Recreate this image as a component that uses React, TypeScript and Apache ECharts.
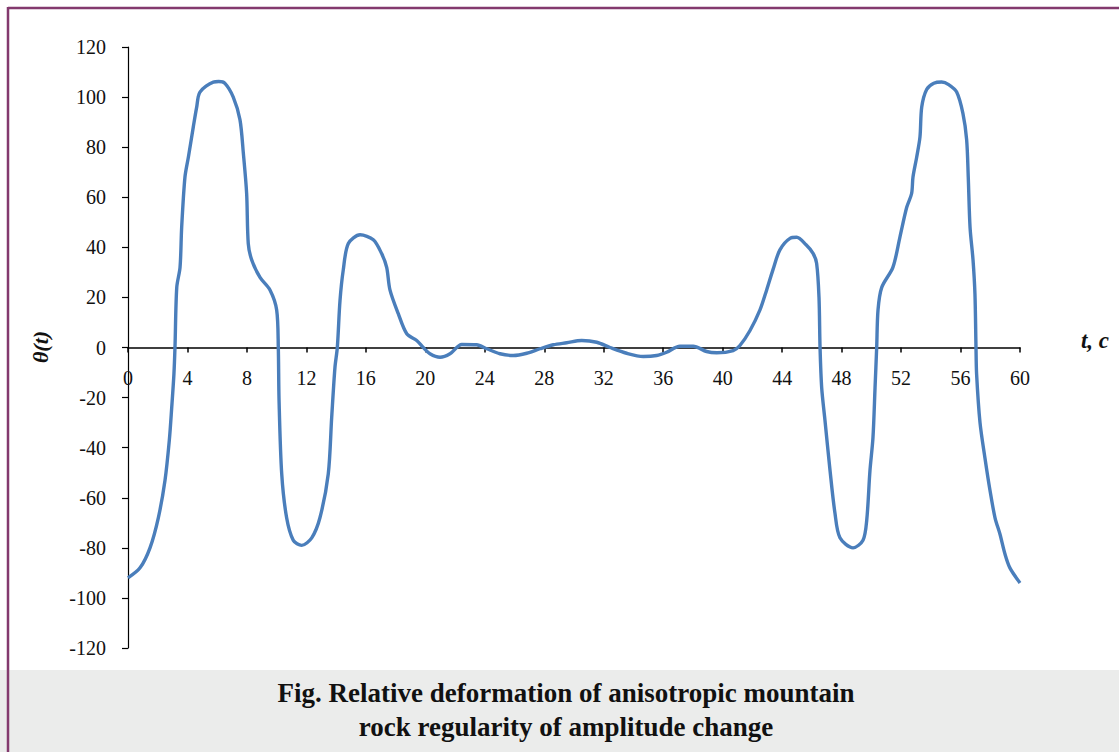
import React, { useEffect, useRef } from "react";
import * as echarts from "echarts";

const tValues = [
  0, 0.81, 1.48, 2.04, 2.49, 2.78, 2.94, 3.09, 3.16, 3.28, 3.5, 3.61, 3.83, 4.06, 4.39, 4.62, 4.84, 5.74, 6.1, 6.52,
  7.08, 7.53, 7.76, 7.98, 8.09, 8.32, 8.88, 9.55, 10.0, 10.11, 10.16, 10.34, 10.67, 11.12, 11.68, 12.36, 12.91, 13.47,
  13.7, 13.92, 14.08, 14.26, 14.48, 14.82, 15.61, 16.5, 17.06, 17.4, 17.62, 18.18, 18.75, 19.42, 19.86, 20.31, 20.99,
  21.66, 22.45, 23.45, 24.13, 25.02, 25.92, 26.82, 27.71, 28.61, 29.51, 30.52, 31.53, 32.42, 33.54, 34.66, 35.56,
  36.23, 37.13, 38.02, 38.92, 39.6, 40.71, 41.16, 41.84, 42.51, 42.96, 43.38, 43.85, 44.53, 44.98, 45.61, 46.08,
  46.32, 46.48, 46.55, 46.66, 46.88, 47.22, 47.55, 47.89, 48.77, 49.44, 49.69, 49.91, 50.11, 50.25, 50.36, 50.45,
  50.7, 51.45, 51.92, 52.38, 52.71, 52.8, 53.05, 53.27, 53.39, 53.72, 54.2, 54.73, 55.2, 55.74, 56.16, 56.41, 56.52,
  56.64, 56.84, 56.97, 57.04, 57.08, 57.31, 57.64, 57.98, 58.32, 58.65, 58.99, 59.32, 60.0,
];

const thetaValues = [
  -92, -88, -80, -68, -53, -37, -24, -10.5, 0, 24, 32, 48, 68, 76, 88, 96, 102, 106, 106.2, 105.5,
  100, 91, 77.5, 61.5, 41.5, 35, 28, 23, 15, 0, -21, -50.5, -68, -77, -79, -76, -68, -50.5,
  -28, -8, 0, 18.7, 31, 41.5, 45, 43, 37.5, 32, 23, 13.5, 5.5, 2.8, 0, -2.5, -3.9,
  -2.5, 1.2, 1.1, -0.5, -2.5, -3.2, -2.3, -0.5, 1.1, 1.9, 2.8, 2.1, 0, -2.3, -3.6, -3.2,
  -1.9, 0.5, 0.5, -1.6, -2.1, -1.2, 0.8, 6.8, 15, 23, 31, 39, 43.6, 44, 41, 37.6,
  33.6, 20, 0, -16, -29, -49, -66, -76, -80, -77, -69, -49, -36, -16, 0, 15,
  24, 32, 44, 56, 61.5, 68, 76, 84, 96, 103, 105.5, 106, 105, 102, 93.5, 83, 68,
  48, 35, 21.3, 0, -10.5, -30, -44, -57, -68, -74.5, -82.5, -88, -94,
];

const yTicks = { min: -120, max: 120, step: 20 };
const xTicks = { min: 0, max: 60, step: 4 };

const yAxisTitle = "θ(t)";
const xAxisTitle = "t, c";
const captionLines = [
  "Fig. Relative deformation of anisotropic mountain",
  "rock regularity of amplitude change",
];

const FONT = "'Liberation Serif', 'Times New Roman', serif";

const GRID_TOP = 47;
const GRID_BOTTOM = 104;
const CHART_H = 752;

export default function App() {
  const ref = useRef<HTMLDivElement>(null);

  useEffect(() => {
    if (!ref.current) return;
    const chart = echarts.init(ref.current, null, { renderer: "svg" });
    const data = tValues.map((t, i) => [t, thetaValues[i]]);
    const plotH = CHART_H - GRID_TOP - GRID_BOTTOM;
    const zeroOffset = -plotH * ((0 - yTicks.min) / (yTicks.max - yTicks.min));
    chart.setOption({
      animation: false,
      backgroundColor: "#ffffff",
      grid: { left: 128, right: 99, top: GRID_TOP, bottom: GRID_BOTTOM, containLabel: false },
      xAxis: {
        type: "value",
        position: "bottom",
        offset: zeroOffset,
        min: xTicks.min,
        max: xTicks.max,
        interval: xTicks.step,
        axisLine: { onZero: false, lineStyle: { color: "#000", width: 1.5 } },
        axisTick: { show: true, length: 5, lineStyle: { color: "#000", width: 1.5 } },
        axisLabel: { margin: 20, color: "#111", fontFamily: FONT, fontSize: 20 },
        splitLine: { show: false },
      },
      yAxis: {
        type: "value",
        min: yTicks.min,
        max: yTicks.max,
        interval: yTicks.step,
        axisLine: { show: true, lineStyle: { color: "#000", width: 1.2 } },
        axisTick: { show: true, length: 6, lineStyle: { color: "#000", width: 1.2 } },
        axisLabel: { margin: 22, color: "#111", fontFamily: FONT, fontSize: 20 },
        splitLine: { show: false },
      },
      series: [
        {
          type: "line",
          data,
          showSymbol: false,
          smooth: 0.3,
          lineStyle: { color: "#4A7EBB", width: 3.4 },
        },
      ],
      graphic: [
        {
          type: "rect",
          shape: { x: 0, y: 670, width: 1119, height: 82 },
          style: { fill: "#EBECEB" },
          z: -1,
        },
        {
          type: "line",
          shape: { x1: 8, y1: 8, x2: 1119, y2: 8 },
          style: { stroke: "#833A6E", lineWidth: 2.5 },
        },
        {
          type: "line",
          shape: { x1: 8, y1: 7, x2: 8, y2: 752 },
          style: { stroke: "#833A6E", lineWidth: 2.5 },
        },
        {
          type: "text",
          x: 40,
          y: 347,
          rotation: Math.PI / 2,
          style: {
            text: yAxisTitle,
            fontFamily: FONT,
            fontSize: 22,
            fontWeight: "bold",
            fontStyle: "italic",
            fill: "#111",
            align: "center",
            verticalAlign: "middle",
          },
        },
        {
          type: "text",
          x: 1095,
          y: 340,
          style: {
            text: xAxisTitle,
            fontFamily: FONT,
            fontSize: 23,
            fontWeight: "bold",
            fontStyle: "italic",
            fill: "#111",
            align: "center",
            verticalAlign: "middle",
          },
        },
        {
          type: "text",
          x: 566,
          y: 693,
          style: {
            text: captionLines[0],
            fontFamily: FONT,
            fontSize: 27,
            fontWeight: "bold",
            fill: "#111",
            align: "center",
            verticalAlign: "middle",
          },
        },
        {
          type: "text",
          x: 566,
          y: 727,
          style: {
            text: captionLines[1],
            fontFamily: FONT,
            fontSize: 27,
            fontWeight: "bold",
            fill: "#111",
            align: "center",
            verticalAlign: "middle",
          },
        },
      ],
    });
    return () => chart.dispose();
  }, []);

  return (
    <div
      ref={ref}
      style={{ position: "fixed", left: 0, top: 0, width: 1119, height: 752 }}
    />
  );
}
